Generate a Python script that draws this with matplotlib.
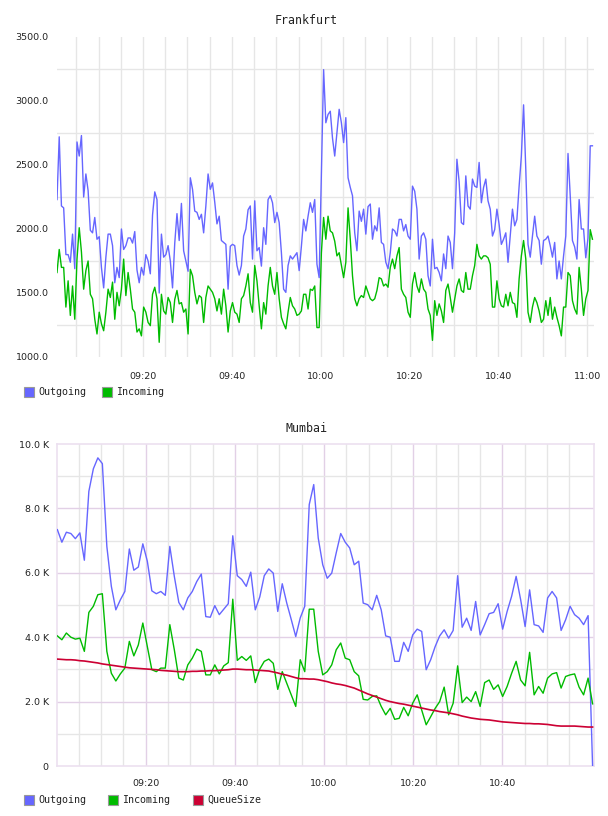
#!/usr/bin/env python3

import numpy as np
import pandas as pd
import matplotlib
matplotlib.use('Agg')
from matplotlib import pyplot as plt
import matplotlib.dates as mdates
from matplotlib.patches import Rectangle

# Frankfurt, sampled every 30 s from 09:00:39
FRA_START = '2024-01-01 09:00:39'
fra_out = [
  2230, 2720, 2180, 2165, 1800, 1800, 1740, 1960, 1690, 2680,
  2570, 2730, 2250, 2430, 2300, 1990, 1970, 2090, 1920, 1940,
  1700, 1540, 1780, 1960, 1960, 1870, 1580, 1700, 1620, 2000,
  1840, 1870, 1930, 1930, 1890, 1980, 1680, 1580, 1700, 1640,
  1800, 1750, 1650, 2110, 2290, 2230, 1500, 1960, 1780, 1800,
  1870, 1750, 1540, 1890, 2120, 1910, 2200, 1830, 1750, 1670,
  2400, 2310, 2140, 2130, 2075, 2115, 1970, 2180, 2430, 2310,
  2360, 2210, 2040, 2100, 1910, 1895, 1880, 1530, 1865, 1880,
  1870, 1715, 1640, 1715, 1945, 2000, 2150, 2180, 1765, 2220,
  1830, 1855, 1710, 2010, 1880, 2230, 2260, 2205, 2050, 2130,
  2050, 1815, 1530, 1505, 1715, 1790, 1765, 1790, 1815, 1675,
  1865, 2075, 1985, 2100, 2205, 2130, 2230, 1725, 1620, 2430,
  3245, 2830, 2895, 2920, 2710, 2570, 2750, 2935, 2830, 2675,
  2870, 2400, 2325, 2260, 1970, 1830, 2140, 2060, 2155, 1960,
  2175, 2195, 1920, 2025, 1985, 2165, 1895, 1880, 1740, 1690,
  1815, 2000, 1985, 1945, 2075, 2075, 1985, 2035, 1945, 1920,
  2335, 2295, 2155, 1765, 1945, 1970, 1920, 1635, 1555, 1920,
  1690, 1700, 1660, 1595, 1805, 1690, 1945, 1895, 1690, 1970,
  2545, 2370,
  2050, 2035, 2415, 2180, 2155, 2390, 2335, 2325, 2520, 2205,
  2325, 2390, 2220, 2155, 1945, 1995, 2155, 2035, 1880, 1920,
  1970, 1740, 1945, 2155, 2025, 2075, 2335, 2570, 2970, 2465,
  1880, 1780, 1945, 2100, 1945, 1910, 1725, 1910, 1920, 1945,
  1870, 1780, 1895, 1610, 1750, 1610, 1790, 1945, 2590, 2260,
  1910, 1860, 1765, 2230, 2000, 2000, 1775, 1930, 2650, 2650,
]
fra_in = [
  1660, 1840, 1700, 1700, 1390, 1595, 1325, 1555, 1295, 1765,
  2010, 1820, 1530, 1675, 1750, 1490, 1455, 1295, 1180, 1350,
  1260, 1205, 1350, 1530, 1465, 1585, 1295, 1505, 1400, 1530,
  1765, 1480, 1660, 1530, 1375, 1350, 1195, 1220, 1165, 1390,
  1350, 1270, 1245, 1490, 1545, 1455, 1115, 1490, 1360, 1335,
  1465, 1425, 1270, 1450, 1520, 1415, 1425, 1350, 1375, 1180,
  1685, 1635, 1505, 1415, 1480, 1465, 1270, 1465, 1555, 1530,
  1505, 1455, 1360, 1455, 1335, 1530, 1400, 1195, 1360, 1425,
  1350, 1335, 1270, 1455, 1480, 1555, 1650, 1425, 1350, 1715,
  1595, 1400, 1220, 1425, 1335, 1555, 1700, 1555, 1490, 1660,
  1455, 1310, 1260, 1220, 1350, 1465, 1400, 1375, 1325, 1335,
  1360, 1490, 1490, 1375, 1530, 1520, 1555, 1230, 1230, 1815,
  2090, 1920, 2100, 1985, 1970, 1905, 1790, 1815, 1715, 1620,
  1740, 2165, 1920, 1635, 1455, 1400, 1455, 1480, 1465, 1555,
  1505, 1455, 1440, 1455, 1520, 1620, 1610, 1555, 1570, 1545,
  1700, 1765, 1690, 1790, 1855, 1530, 1490, 1465, 1350, 1310,
  1570, 1660, 1555, 1505, 1610, 1530, 1505, 1375, 1325, 1130,
  1440, 1325, 1415, 1360, 1270, 1520, 1570, 1465, 1350, 1455,
  1555, 1610,
  1520, 1505, 1660, 1530, 1530, 1635, 1715, 1880, 1790, 1765,
  1790, 1790, 1775, 1725, 1390, 1390, 1595, 1455, 1400, 1390,
  1490, 1400, 1505, 1425, 1415, 1310, 1610, 1790, 1910, 1765,
  1350, 1270, 1390, 1465, 1425, 1360, 1270, 1295, 1440, 1325,
  1465, 1295, 1390, 1310, 1245, 1165, 1390, 1390, 1660, 1635,
  1440, 1375, 1335, 1700, 1530, 1325, 1455, 1520, 1995, 1920,
]

# Mumbai, about one sample per minute, values in thousands
MUM_START = '2024-01-01 09:00:13'
MUM_END = '2024-01-01 11:00:13'
mum_out = [
  7.34, 6.95, 7.26, 7.22, 7.06, 7.24, 6.39, 8.53, 9.23, 9.57,
  9.39, 6.82, 5.58, 4.85, 5.16, 5.42, 6.74, 6.08, 6.18, 6.90,
  6.36, 5.44, 5.35, 5.42, 5.30, 6.82, 5.89, 5.08, 4.85, 5.22,
  5.42, 5.73, 5.96, 4.64, 4.62, 4.98, 4.70, 4.87, 5.04, 7.15,
  5.91, 5.79, 5.58, 6.02, 4.85, 5.25, 5.91, 6.12, 5.99, 4.80,
  5.66, 5.06, 4.55, 4.02, 4.60,
  4.96, 8.12, 8.74, 7.08, 6.25, 5.83, 5.99, 6.62, 7.22, 6.95,
  6.77, 6.25, 6.36, 5.06, 5.01, 4.85, 5.30, 4.85, 4.04, 4.00,
  3.25, 3.25, 3.84, 3.56, 4.07, 4.25, 4.18, 2.99, 3.30, 3.71,
  4.04, 4.23, 3.97, 4.21, 5.91, 4.31, 4.59, 4.21, 5.11, 4.07,
  4.39, 4.73, 4.77, 5.04, 4.25, 4.80, 5.27, 5.89, 5.17, 4.33,
  5.47, 4.39, 4.35, 4.15, 5.22, 5.42, 5.22, 4.21, 4.54, 4.96,
  4.70, 4.59, 4.39, 4.67, 0.0,
]
mum_in = [
  4.04, 3.92, 4.13, 4.00, 3.94, 3.97, 3.56, 4.77, 4.96, 5.32,
  5.35, 3.56, 2.88, 2.64, 2.86, 3.04, 3.87, 3.42, 3.76, 4.44,
  3.71, 2.99, 2.93, 3.04, 3.04, 4.39, 3.61, 2.73, 2.67, 3.14,
  3.35, 3.63, 3.56, 2.83, 2.83, 3.14, 2.86, 3.11, 3.21, 5.18,
  3.28, 3.40, 3.28, 3.42, 2.59, 3.01, 3.25, 3.32, 3.19, 2.38,
  2.93, 2.57, 2.21, 1.85, 3.30,
  2.93, 4.87, 4.87, 3.56, 2.83, 2.93, 3.14, 3.61, 3.82, 3.35,
  3.30, 2.93, 2.80, 2.07, 2.05, 2.16, 2.18, 1.85, 1.59, 1.79,
  1.45, 1.48, 1.82, 1.56, 1.95, 2.21, 1.74, 1.28, 1.53, 1.79,
  2.00, 2.45, 1.59, 1.95, 3.11, 1.97, 2.14, 2.00, 2.31, 1.85,
  2.59, 2.67, 2.38, 2.52, 2.16, 2.47, 2.88, 3.25, 2.67, 2.49,
  3.53, 2.21, 2.47, 2.26, 2.73, 2.86, 2.90, 2.42, 2.78, 2.83,
  2.86, 2.45, 2.21, 2.73, 1.93,
]
mum_queue = [
  3.32, 3.31, 3.30, 3.30, 3.29, 3.27, 3.26, 3.24, 3.22, 3.20,
  3.17, 3.15, 3.13, 3.11, 3.09, 3.07, 3.05, 3.04, 3.03, 3.02,
  3.01, 3.00, 2.99, 2.97, 2.96, 2.95, 2.94, 2.93, 2.93, 2.93,
  2.94, 2.94, 2.95, 2.95, 2.96, 2.96, 2.97, 2.98, 2.99, 3.01,
  3.01, 3.00, 2.99, 2.99, 2.98, 2.97, 2.96, 2.95, 2.92, 2.89,
  2.85, 2.82, 2.78, 2.74, 2.71,
  2.71, 2.70, 2.70, 2.68, 2.65, 2.62, 2.58, 2.55, 2.53, 2.50,
  2.46, 2.42, 2.36, 2.30, 2.24, 2.19, 2.14, 2.09, 2.04, 2.00,
  1.97, 1.94, 1.92, 1.89, 1.86, 1.83, 1.80, 1.77, 1.74, 1.72,
  1.69, 1.67, 1.65, 1.62, 1.59, 1.55, 1.52, 1.49, 1.47, 1.45,
  1.44, 1.43, 1.41, 1.39, 1.37, 1.36, 1.35, 1.34, 1.33, 1.32,
  1.32, 1.31, 1.31, 1.30, 1.29, 1.27, 1.25, 1.24, 1.24, 1.24,
  1.24, 1.23, 1.22, 1.21, 1.21,
]

fra_yticks = [1000, 1500, 2000, 2500, 3000, 3500]
mum_yticks = [0, 2000, 4000, 6000, 8000, 10000]
mum_ylabels = ['0', '2.0 K', '4.0 K', '6.0 K', '8.0 K', '10.0 K']

BLUE = '#6666ff'
GREEN = '#00bb00'
RED = '#cc0033'
GRID = '#e6e6e6'
PURPLE = '#e2d0e6'
MONO = 'DejaVu Sans Mono'

W, H = 608, 816

def fx(x):
  return x / W

def fy(y):
  return 1 - y / H

def day(hm):
  return pd.Timestamp(f'2024-01-01 {hm}')

def legend(fig, y, entries):
  for x, color, label in entries:
    fig.add_artist(Rectangle((fx(x), fy(y + 5)), 10 / W, 10 / H, transform=fig.transFigure,
                             facecolor=color, edgecolor='#999999', linewidth=0.8))
    fig.text(fx(x + 14), fy(y), label, family=MONO, fontsize=7.2, va='center', ha='left', color='#222222')

def style_time_axis(ax, lo, hi, labels):
  ax.set_xlim(lo, hi)
  ax.set_xticks([day(t) for t in labels])
  ax.xaxis.set_major_formatter(mdates.DateFormatter('%H:%M'))
  ax.tick_params(length=0, labelsize=6.8, colors='#222222')

def main():
  fig = plt.figure(figsize=(W / 100, H / 100), dpi=100)

  # Frankfurt
  ax = fig.add_axes([fx(57), fy(357), fx(537), 320 / H])
  t = pd.date_range(FRA_START, periods=len(fra_out), freq='30s')
  for m in pd.date_range(day('09:05'), day('11:00'), freq='5min'):
    ax.axvline(m, color=GRID, lw=1, zorder=0)
  for v in [1250, 1750, 2250, 2750, 3250]:
    ax.axhline(v, color=GRID, lw=1, zorder=0)
  ax.plot(t, fra_out, color=BLUE, lw=1.0, zorder=3)
  ax.plot(t, fra_in, color=GREEN, lw=1.0, zorder=3)
  ax.set_ylim(1000, 3500)
  ax.set_yticks(fra_yticks)
  ax.set_yticklabels([f'{v:.1f}' for v in fra_yticks])
  style_time_axis(ax, pd.Timestamp(FRA_START), day('11:01:30'),
                  ['09:20', '09:40', '10:00', '10:20', '10:40', '11:00'])
  ax.tick_params(axis='x', pad=11)
  ax.tick_params(axis='y', pad=6)
  for s in ax.spines.values():
    s.set_visible(False)
  fig.text(fx(306), fy(20), 'Frankfurt', family=MONO, fontsize=8.4, ha='center', va='center', color='#222222')
  legend(fig, 392, [(24, BLUE, 'Outgoing'), (102, GREEN, 'Incoming')])

  # Mumbai
  ax = fig.add_axes([fx(57), fy(766), fx(537), 322 / H])
  t = pd.date_range(MUM_START, MUM_END, periods=len(mum_out))
  for m in pd.date_range(day('09:05'), day('10:55'), freq='5min'):
    ax.axvline(m, color=PURPLE if m.minute % 20 == 0 else GRID, lw=1, zorder=0)
  for v in range(1000, 10000, 1000):
    ax.axhline(v, color=PURPLE if v % 2000 == 0 else GRID, lw=1, zorder=0)
  ax.plot(t, np.array(mum_out) * 1000, color=BLUE, lw=1.0, zorder=3)
  ax.plot(t, np.array(mum_in) * 1000, color=GREEN, lw=1.0, zorder=3)
  ax.plot(t, np.array(mum_queue) * 1000, color=RED, lw=1.2, zorder=3)
  ax.set_ylim(0, 10000)
  ax.set_yticks(mum_yticks)
  ax.set_yticklabels(mum_ylabels)
  style_time_axis(ax, day('09:00:08'), day('11:00:32'),
                  ['09:20', '09:40', '10:00', '10:20', '10:40'])
  ax.tick_params(axis='x', pad=9)
  ax.tick_params(axis='y', pad=6)
  for s in ax.spines.values():
    s.set_color('#ece0f0')
    s.set_linewidth(1.2)
  fig.text(fx(306), fy(429), 'Mumbai', family=MONO, fontsize=8.4, ha='center', va='center', color='#222222')
  legend(fig, 800, [(24, BLUE, 'Outgoing'), (108, GREEN, 'Incoming'), (193, RED, 'QueueSize')])

  fig.savefig('out.png', dpi=100)

if __name__ == "__main__":
  main()
